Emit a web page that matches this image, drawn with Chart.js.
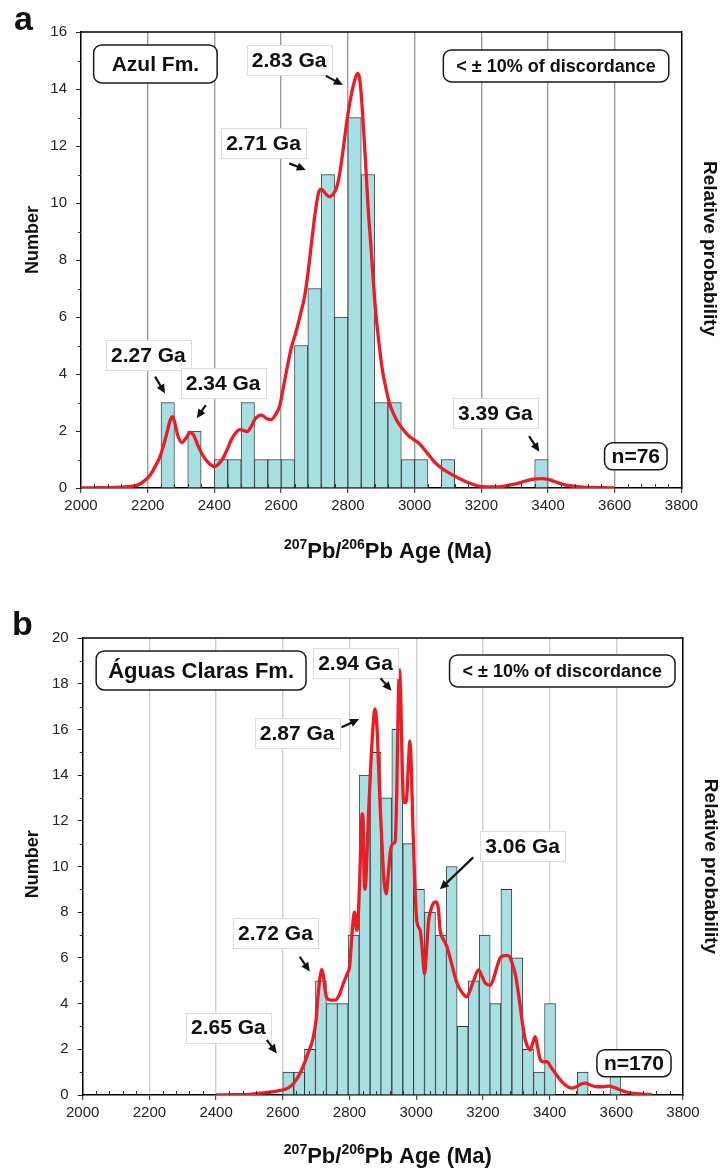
<!DOCTYPE html>
<html>
<head>
<meta charset="utf-8">
<script src="https://cdn.jsdelivr.net/npm/chart.js@4.4.1/dist/chart.umd.min.js"></script>
<style>
  html, body { margin: 0; padding: 0; background: #fff; }
  #wrap { position: relative; width: 724px; height: 1171px; }
  canvas { position: absolute; left: 0; }
  #chartA { top: 0; }
  #chartB { top: 585px; }
</style>
</head>
<body>
<div id="wrap">
  <canvas id="chartA" width="724" height="585"></canvas>
  <canvas id="chartB" width="724" height="586"></canvas>
</div>
<script>
// ---------- Azul Fm. : 207Pb/206Pb ages, 40 Ma bins ----------
const binWidthA = 40;
const binLeftA = [2240, 2280, 2320, 2360, 2400, 2440, 2480, 2520, 2560, 2600,
                  2640, 2680, 2720, 2760, 2800, 2840, 2880, 2920, 2960, 3000,
                  3040, 3080, 3120, 3160, 3200, 3240, 3280, 3320, 3360];
const countsA  = [3, 0, 2, 0, 1, 1, 3, 1, 1, 1,
                  5, 7, 11, 6, 13, 11, 3, 3, 1, 1,
                  0, 1, 0, 0, 0, 0, 0, 0, 1];

// relative probability curve (plotted in count-equivalent units)
const curveAgeA = [2000, 2050, 2100, 2140, 2170, 2190, 2207, 2222, 2237, 2250,
                   2260, 2268, 2274, 2281, 2290, 2302, 2315, 2327, 2338, 2352,
                   2365, 2377, 2390, 2401, 2413, 2426, 2440, 2451, 2465, 2476,
                   2488, 2498, 2510, 2521, 2532, 2541, 2556, 2570, 2582, 2596,
                   2606, 2616, 2630, 2645, 2658, 2670, 2680, 2690, 2698, 2705,
                   2712, 2718, 2725, 2735, 2745, 2755, 2765, 2775, 2785, 2795,
                   2804, 2812, 2819, 2826, 2831, 2837, 2844, 2850, 2856, 2862,
                   2869, 2876, 2884, 2894, 2904, 2914, 2924, 2937, 2950, 2969,
                   2985, 3000, 3015, 3033, 3050, 3063, 3080, 3093, 3115, 3143,
                   3170, 3192, 3215, 3242, 3265, 3292, 3320, 3342, 3365, 3382,
                   3400, 3421, 3445, 3471, 3505, 3541, 3570, 3600];
const curveProbA = [0, 0.01, 0.02, 0.05, 0.1, 0.25, 0.45, 0.75, 1.1, 1.6,
                    2.05, 2.4, 2.5, 2.3, 1.85, 1.6, 1.75, 1.95, 1.85, 1.45,
                    1.15, 0.95, 0.8, 0.75, 0.85, 1.05, 1.4, 1.7, 1.95, 2.05,
                    2.02, 1.98, 2.15, 2.4, 2.53, 2.56, 2.44, 2.4, 2.55, 2.9,
                    3.5, 4.1, 4.9, 5.5, 6.1, 6.7, 7.5, 8.5, 9.3, 9.9,
                    10.35, 10.48, 10.45, 10.3, 10.22, 10.3, 10.5, 11.0, 11.8, 12.7,
                    13.4, 13.9, 14.25, 14.5, 14.55, 14.2, 13.15, 12.0, 10.8, 9.6,
                    8.5, 7.3, 6.1, 5.0, 4.1, 3.5, 3.0, 2.6, 2.3, 2.0,
                    1.8, 1.68, 1.55, 1.3, 1.05, 0.87, 0.7, 0.6, 0.45, 0.28,
                    0.15, 0.07, 0.04, 0.04, 0.06, 0.12, 0.2, 0.28, 0.32, 0.33,
                    0.3, 0.22, 0.13, 0.07, 0.03, 0.02, 0.01, 0];

// ---------- Águas Claras Fm. : 207Pb/206Pb ages ----------
const binWidthB = 32.7;
const binLeftB = [2600, 2633, 2665, 2698, 2731, 2763, 2796, 2829, 2862, 2894,
                  2927, 2960, 2992, 3025, 3058, 3090, 3123, 3156, 3189, 3221,
                  3254, 3287, 3319, 3352, 3385, 3417, 3450, 3483, 3516, 3548,
                  3581];
const countsB  = [1, 1, 2, 5, 4, 4, 7, 14, 15, 13,
                  16, 11, 9, 8, 7, 10, 3, 5, 7, 4,
                  9, 6, 2, 1, 4, 0, 0, 1, 0, 0,
                  1];

const curveAgeB = [2400, 2450, 2500, 2532, 2560, 2592, 2615, 2632, 2648, 2661,
                   2675, 2691, 2700, 2706, 2712, 2717, 2722, 2727, 2732, 2745,
                   2757, 2770, 2782, 2793, 2800, 2805, 2810, 2815, 2819, 2823,
                   2828, 2833, 2838, 2841, 2844, 2847, 2851, 2857, 2863, 2870,
                   2876, 2882, 2887, 2892, 2898, 2904, 2910, 2916, 2922, 2930,
                   2937, 2942, 2946, 2950, 2954, 2958, 2962, 2967, 2972, 2977,
                   2981, 2985, 2990, 2995, 3002, 3012, 3018, 3025, 3031, 3037,
                   3044, 3052, 3060, 3066, 3072, 3082, 3092, 3107, 3122, 3137,
                   3152, 3162, 3172, 3187, 3197, 3207, 3222, 3232, 3242, 3252,
                   3265, 3277, 3287, 3297, 3305, 3312, 3320, 3327, 3335, 3342,
                   3350, 3357, 3364, 3372, 3382, 3392, 3405, 3417, 3430, 3442,
                   3455, 3467, 3480, 3495, 3507, 3520, 3542, 3560, 3577, 3595,
                   3612, 3630, 3652, 3680, 3707];
const curveProbB = [0, 0.01, 0.03, 0.08, 0.12, 0.2, 0.3, 0.5, 0.85, 1.25,
                    1.8, 2.5, 3.3, 4.4, 5.2, 5.5, 5.2, 4.6, 4.25, 4.15,
                    4.15, 4.4, 4.9, 5.3, 5.6, 6.5, 7.5, 8.0, 7.4, 7.2,
                    8.4, 10.5, 12.3, 12.0, 9.5, 9.0, 10.0, 12.3, 14.2, 16.0,
                    16.9, 16.2, 14.5, 12.6, 10.8, 9.3, 8.8, 9.6, 10.6, 11.0,
                    11.1, 13.5, 17.0, 18.6, 17.2, 14.5, 12.9, 12.8, 13.1, 14.6,
                    15.5, 14.5, 11.8, 9.6, 7.6, 7.2, 6.4, 5.3, 6.3, 7.6,
                    8.1, 8.4, 8.45, 8.2, 7.2, 6.8, 6.5, 5.7, 4.9, 4.5,
                    4.3, 4.6, 5.0, 5.47, 5.2, 4.9, 4.8, 5.1, 5.6, 6.0,
                    6.1, 6.1, 5.8, 5.3, 4.6, 3.86, 3.0, 2.4, 2.1, 1.97,
                    2.3, 2.55, 2.1, 1.55, 1.45, 1.46, 1.2, 0.95, 0.7, 0.5,
                    0.36, 0.3, 0.36, 0.48, 0.52, 0.45, 0.36, 0.36, 0.39, 0.32,
                    0.22, 0.13, 0.07, 0.04, 0.02];

// axis ranges and tick labels
const AGE_MIN = 2000, AGE_MAX = 3800, AGE_STEP = 200, AGE_MINOR = 40;
const yMaxA = 16, yMaxB = 20, COUNT_STEP = 2;

// framed captions and peak labels, anchored in (age, count) units
const framesA = [
  { text: 'Azul Fm.', x: 2223, y: 14.88, size: 21, h: 38, padX: 18 },
  { text: '< ± 10% of discordance', x: 3424, y: 14.81, size: 18, h: 32, padX: 13 },
  { text: 'n=76', x: 3663, y: 1.11, size: 21, h: 27, padX: 7 }
];
const peaksA = [
  { text: '2.83 Ga', x: 2624, y: 15.02, from: [2734, 14.46], to: [2785, 14.14] },
  { text: '2.71 Ga', x: 2547, y: 12.1,  from: [2624, 11.39], to: [2674, 11.16] },
  { text: '2.27 Ga', x: 2202, y: 4.67,  from: [2222, 3.91],  to: [2252, 3.32] },
  { text: '2.34 Ga', x: 2426, y: 3.69,  from: [2374, 2.91],  to: [2347, 2.45] },
  { text: '3.39 Ga', x: 3242, y: 2.63,  from: [3343, 1.82],  to: [3374, 1.27] }
];
const framesB = [
  { text: 'Águas Claras Fm.', x: 2355, y: 18.58, size: 22, h: 39, padX: 12 },
  { text: '< ± 10% of discordance', x: 3438, y: 18.56, size: 18, h: 32, padX: 13 },
  { text: 'n=170', x: 3653, y: 1.39, size: 21, h: 27, padX: 7 }
];
const peaksB = [
  { text: '2.94 Ga', x: 2818, y: 18.9,  from: [2893, 18.24], to: [2926, 17.69] },
  { text: '2.87 Ga', x: 2643, y: 15.84, from: [2776, 16.09], to: [2829, 16.45] },
  { text: '3.06 Ga', x: 3319, y: 10.9,  from: [3171, 10.4],  to: [3071, 9.0] },
  { text: '2.72 Ga', x: 2578, y: 7.09,  from: [2651, 6.05],  to: [2681, 5.4] },
  { text: '2.65 Ga', x: 2437, y: 2.95,  from: [2552, 2.41],  to: [2582, 1.82] }
];

const FONT = "'Liberation Sans', Arial, Helvetica, sans-serif";
const BAR_FILL = '#a8dfe2';
const BAR_EDGE = '#333333';
const CURVE_RED = '#ec1c24';
Chart.defaults.font.family = FONT;

function roundRect(ctx, x, y, w, h, r) {
  ctx.beginPath();
  ctx.moveTo(x + r, y);
  ctx.lineTo(x + w - r, y);
  ctx.arcTo(x + w, y, x + w, y + r, r);
  ctx.lineTo(x + w, y + h - r);
  ctx.arcTo(x + w, y + h, x + w - r, y + h, r);
  ctx.lineTo(x + r, y + h);
  ctx.arcTo(x, y + h, x, y + h - r, r);
  ctx.lineTo(x, y + r);
  ctx.arcTo(x, y, x + r, y, r);
  ctx.closePath();
}

function arrow(ctx, x1, y1, x2, y2) {
  const a = Math.atan2(y2 - y1, x2 - x1);
  const L = 9, W = 4.2;
  const c = Math.cos(a), s = Math.sin(a);
  ctx.beginPath();
  ctx.moveTo(x1, y1);
  ctx.lineTo(x2 - L * 0.8 * c, y2 - L * 0.8 * s);
  ctx.stroke();
  ctx.beginPath();
  ctx.moveTo(x2, y2);
  ctx.lineTo(x2 - L * c + W * s, y2 - L * s - W * c);
  ctx.lineTo(x2 - L * c - W * s, y2 - L * s + W * c);
  ctx.closePath();
  ctx.fill();
}

function rotatedText(ctx, text, x, y, angle, font) {
  ctx.save();
  ctx.translate(x, y);
  ctx.rotate(angle);
  ctx.font = font;
  ctx.textAlign = 'center';
  ctx.textBaseline = 'middle';
  ctx.fillText(text, 0, 0);
  ctx.restore();
}

// draws minor ticks, frame top, captions, arrows, axis titles and panel letter
function makeDecor(spec) {
  return {
    id: 'decor',
    afterDraw(chart) {
      const { ctx, chartArea: ca } = chart;
      const xs = chart.scales.x, ys = chart.scales.y;
      ctx.save();

      // minor ticks
      ctx.strokeStyle = '#333';
      ctx.lineWidth = 1;
      for (let v = AGE_MIN + AGE_MINOR; v < AGE_MAX; v += AGE_MINOR) {
        if (v % AGE_STEP === 0) continue;
        const px = Math.round(xs.getPixelForValue(v)) + 0.5;
        ctx.beginPath(); ctx.moveTo(px, ca.bottom); ctx.lineTo(px, ca.bottom - 4); ctx.stroke();
      }
      for (let v = 1; v < spec.yMax; v += COUNT_STEP) {
        const py = Math.round(ys.getPixelForValue(v)) + 0.5;
        ctx.beginPath(); ctx.moveTo(ca.left - 3, py); ctx.lineTo(ca.left, py); ctx.stroke();
      }

      // top edge of the frame
      ctx.strokeStyle = '#000';
      ctx.lineWidth = 1.5;
      ctx.beginPath(); ctx.moveTo(ca.left, ca.top); ctx.lineTo(ca.right, ca.top); ctx.stroke();

      ctx.textAlign = 'center';
      ctx.textBaseline = 'middle';

      // rounded caption frames
      spec.frames.forEach(f => {
        ctx.font = `bold ${f.size}px ${FONT}`;
        const w = ctx.measureText(f.text).width + 2 * f.padX;
        const cx = xs.getPixelForValue(f.x), cy = ys.getPixelForValue(f.y);
        roundRect(ctx, cx - w / 2, cy - f.h / 2, w, f.h, 8);
        ctx.fillStyle = '#fff'; ctx.fill();
        ctx.strokeStyle = '#1a1a1a'; ctx.lineWidth = 1.5; ctx.stroke();
        ctx.fillStyle = '#111';
        ctx.fillText(f.text, cx, cy + 1);
      });

      // peak labels with arrows
      spec.peaks.forEach(p => {
        ctx.font = `bold 21px ${FONT}`;
        const w = ctx.measureText(p.text).width + 10;
        const cx = xs.getPixelForValue(p.x), cy = ys.getPixelForValue(p.y);
        ctx.fillStyle = '#fff';
        ctx.fillRect(cx - w / 2, cy - 15, w, 30);
        ctx.strokeStyle = '#dcdcdc'; ctx.lineWidth = 1;
        ctx.strokeRect(Math.round(cx - w / 2) + 0.5, Math.round(cy - 15) + 0.5, Math.round(w), 30);
        ctx.fillStyle = '#111';
        ctx.fillText(p.text, cx, cy + 1);
        ctx.strokeStyle = '#111'; ctx.fillStyle = '#111'; ctx.lineWidth = 2.2;
        arrow(ctx, xs.getPixelForValue(p.from[0]), ys.getPixelForValue(p.from[1]),
                   xs.getPixelForValue(p.to[0]), ys.getPixelForValue(p.to[1]));
      });

      // y-axis titles
      ctx.fillStyle = '#111';
      rotatedText(ctx, 'Number', spec.numberX, ys.getPixelForValue(spec.numberAt),
                  -Math.PI / 2, `bold 18px ${FONT}`);
      rotatedText(ctx, 'Relative probability', spec.probX, ys.getPixelForValue(spec.probAt),
                  Math.PI / 2, `bold 19px ${FONT}`);

      // x-axis title with superscript mass numbers
      const parts = [['207', true], ['Pb/', false], ['206', true], ['Pb Age (Ma)', false]];
      const big = `bold 22px ${FONT}`, small = `bold 14px ${FONT}`;
      let total = 0;
      parts.forEach(([t, sup]) => { ctx.font = sup ? small : big; total += ctx.measureText(t).width; });
      let tx = xs.getPixelForValue(spec.xTitleAt) - total / 2;
      ctx.textAlign = 'left';
      ctx.textBaseline = 'alphabetic';
      const base = spec.xTitleY + 8;
      parts.forEach(([t, sup]) => {
        ctx.font = sup ? small : big;
        ctx.fillText(t, tx, sup ? base - 9 : base);
        tx += ctx.measureText(t).width;
      });

      // panel letter
      ctx.font = `bold 34px ${FONT}`;
      ctx.fillText(spec.letter, spec.letterX, spec.letterY);
      ctx.restore();
    }
  };
}

function buildChart(canvasId, spec) {
  const pxPerMa = (spec.right - spec.left) / (AGE_MAX - AGE_MIN);
  const bars = spec.binLeft.map((b, i) => ({ x: b + spec.binWidth / 2, y: spec.counts[i] }));
  const curve = spec.curveAge.map((a, i) => ({ x: a, y: spec.curveProb[i] }));
  const tickFont = { size: 15, family: FONT };
  return new Chart(document.getElementById(canvasId), {
    type: 'bar',
    data: {
      datasets: [
        {
          type: 'line', data: curve, yAxisID: 'y2', order: 0,
          borderColor: CURVE_RED, borderWidth: 3.3, pointRadius: 0,
          cubicInterpolationMode: 'monotone', fill: false
        },
        {
          type: 'bar', data: bars, yAxisID: 'y', order: 1,
          backgroundColor: BAR_FILL, borderColor: BAR_EDGE,
          borderWidth: { top: 1, left: 0.9, right: 0.9, bottom: 0 },
          borderSkipped: false,
          barThickness: spec.binWidth * pxPerMa
        }
      ]
    },
    options: {
      responsive: false,
      animation: false,
      events: [],
      layout: { padding: { top: spec.top, left: 0, right: 0, bottom: 0 } },
      plugins: { legend: { display: false }, tooltip: { enabled: false } },
      scales: {
        x: {
          type: 'linear', min: AGE_MIN, max: AGE_MAX, offset: false,
          ticks: {
            stepSize: AGE_STEP, autoSkip: false, maxRotation: 0, padding: 4,
            font: tickFont, color: '#222', callback: v => String(v)
          },
          grid: {
            offset: false, lineWidth: 1.4, tickLength: 5, tickWidth: 1, tickColor: '#222',
            color: c => (c.tick && (c.tick.value === AGE_MIN || c.tick.value === AGE_MAX))
              ? 'rgba(0,0,0,0)' : spec.gridColor
          },
          border: { display: true, color: '#000', width: 1.5 },
          afterFit: sc => { sc.height = spec.xAxisHeight; }
        },
        y: {
          position: 'left', min: 0, max: spec.yMax,
          ticks: { stepSize: COUNT_STEP, padding: 9, font: tickFont, color: '#222' },
          grid: { display: true, drawOnChartArea: false, tickLength: 5, tickColor: '#222', tickWidth: 1 },
          border: { display: true, color: '#000', width: 1.5 },
          afterFit: sc => { sc.width = spec.left; }
        },
        y2: {
          position: 'right', min: 0, max: spec.yMax,
          ticks: { display: false },
          grid: { display: false },
          border: { display: true, color: '#000', width: 1.5 },
          afterFit: sc => { sc.width = 724 - spec.right; }
        }
      }
    },
    plugins: [makeDecor(spec)]
  });
}

buildChart('chartA', {
  binLeft: binLeftA, counts: countsA, binWidth: binWidthA,
  curveAge: curveAgeA, curveProb: curveProbA,
  frames: framesA, peaks: peaksA, yMax: yMaxA,
  top: 32, left: 81, right: 681.5, xAxisHeight: 97,
  gridColor: '#9c9c9c', xTitleY: 550, xTitleAt: 2920,
  numberX: 33, numberAt: 8.7, probX: 709, probAt: 8.4,
  letter: 'a', letterX: 14, letterY: 30
});

buildChart('chartB', {
  binLeft: binLeftB, counts: countsB, binWidth: binWidthB,
  curveAge: curveAgeB, curveProb: curveProbB,
  frames: framesB, peaks: peaksB, yMax: yMaxB,
  top: 53, left: 82.7, right: 683, xAxisHeight: 76,
  gridColor: '#cdcdcd', xTitleY: 570, xTitleAt: 2915,
  numberX: 33, numberAt: 10.1, probX: 710, probAt: 10,
  letter: 'b', letterX: 12, letterY: 50
});
</script>
</body>
</html>
